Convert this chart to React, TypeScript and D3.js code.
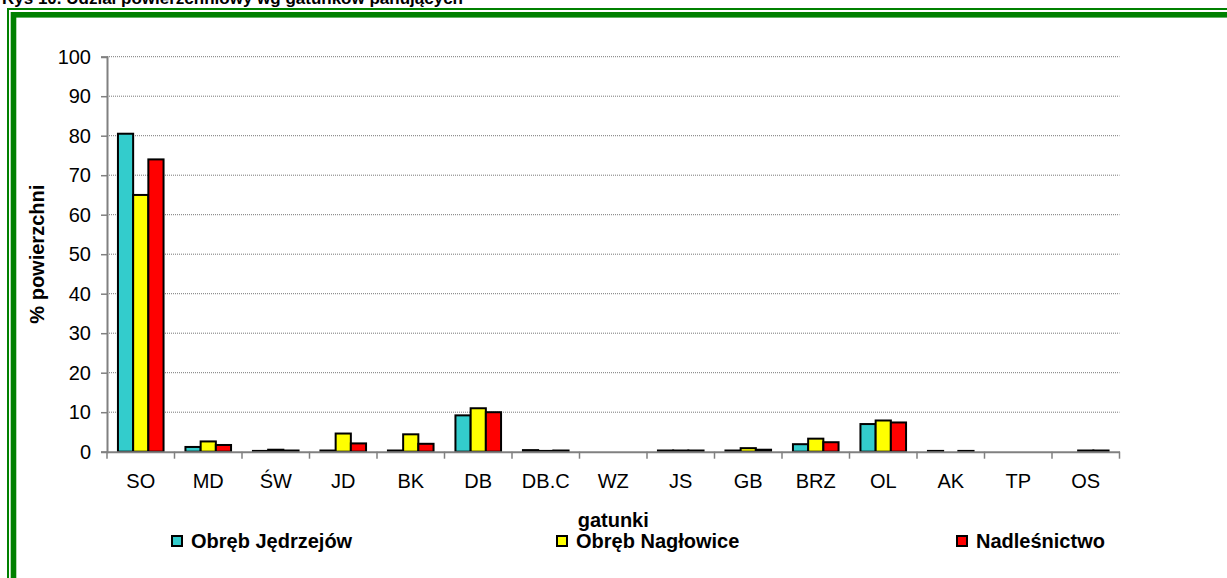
import React, { useEffect, useRef } from 'react';
import * as d3 from 'd3';

// gatunki (species)
const categories = ['SO', 'MD', 'ŚW', 'JD', 'BK', 'DB', 'DB.C', 'WZ', 'JS', 'GB', 'BRZ', 'OL', 'AK', 'TP', 'OS'];
const seriesNames = ['Obręb Jędrzejów', 'Obręb Nagłowice', 'Nadleśnictwo'];
const jedrzejow = [80.5, 1.2, 0.2, 0.3, 0.3, 9.2, 0.4, 0, 0.3, 0.3, 1.9, 7.0, 0.2, 0, 0];
const naglowice = [65, 2.6, 0.5, 4.6, 4.4, 11.0, 0.2, 0, 0.3, 0.9, 3.3, 7.9, 0, 0, 0.3];
const nadlesnictwo = [74, 1.7, 0.3, 2.1, 2.0, 10.0, 0.3, 0, 0.3, 0.5, 2.4, 7.4, 0.2, 0, 0.3];
const yTicks = [0, 10, 20, 30, 40, 50, 60, 70, 80, 90, 100];

const colors = ['#33CCCC', '#FFFF00', '#FF0000'];

export default function App() {
  const ref = useRef<SVGSVGElement>(null);

  useEffect(() => {
    const width = 1227, height = 578;
    const left = 107, right = 1119.5, top = 56.7, bottom = 451.7;
    const svg = d3.select(ref.current);
    svg.selectAll('*').remove();

    svg.append('rect').attr('width', width).attr('height', height).attr('fill', '#fff');

    // title, cut off at the top like in the scan
    svg.append('text')
      .attr('x', 2).attr('y', 4)
      .attr('font-family', 'Arial, Liberation Sans, sans-serif')
      .attr('font-weight', 'bold').attr('font-size', 17)
      .text('Rys 10. Udział powierzchniowy wg gatunków panujących');

    // green double frame
    svg.append('rect').attr('x', 8).attr('y', 9).attr('width', 1400).attr('height', 800)
      .attr('fill', 'none').attr('stroke', '#008000').attr('stroke-width', 2);
    svg.append('rect').attr('x', 13.5).attr('y', 14.8).attr('width', 1400).attr('height', 800)
      .attr('fill', 'none').attr('stroke', '#008000').attr('stroke-width', 5.6);

    const y = d3.scaleLinear().domain([0, 100]).range([bottom, top]);
    const x0 = d3.scaleBand().domain(categories).range([left, right]).padding(0);
    const x1 = d3.scaleBand().domain(seriesNames).range([0, x0.bandwidth()])
      .paddingInner(0).paddingOuter(0.72);

    // grid lines
    svg.append('g').selectAll('line')
      .data(yTicks.filter(t => t > 0))
      .enter().append('line')
      .attr('x1', left).attr('x2', right)
      .attr('y1', d => y(d)).attr('y2', d => y(d))
      .attr('stroke', '#777').attr('stroke-width', 1).attr('stroke-dasharray', '1,1');

    // bars
    const data = [jedrzejow, naglowice, nadlesnictwo];
    const rows = categories.flatMap((c, i) =>
      seriesNames.map((s, j) => ({ c, s, j, v: data[j][i] }))).filter(d => d.v > 0);
    svg.append('g').selectAll('rect')
      .data(rows)
      .enter().append('rect')
      .attr('x', d => (x0(d.c) as number) + (x1(d.s) as number))
      .attr('y', d => y(d.v))
      .attr('width', x1.bandwidth())
      .attr('height', d => bottom - y(d.v))
      .attr('fill', d => colors[d.j])
      .attr('stroke', '#000').attr('stroke-width', 2);

    // y axis
    const yAxis = svg.append('g').attr('transform', `translate(${left},0)`)
      .call(d3.axisLeft(y).tickValues(yTicks).tickSize(6).tickPadding(10));
    yAxis.select('.domain').attr('stroke', '#808080').attr('stroke-width', 2);
    yAxis.selectAll('.tick line').attr('stroke', '#808080').attr('stroke-width', 1.5);
    yAxis.selectAll('text').attr('font-family', 'Arial, Liberation Sans, sans-serif')
      .attr('font-size', 20).attr('fill', '#000');

    // x axis
    const xAxis = svg.append('g').attr('transform', `translate(0,${bottom})`)
      .call(d3.axisBottom(x0).tickSize(0).tickPadding(22));
    xAxis.select('.domain').attr('stroke', '#808080').attr('stroke-width', 2);
    xAxis.selectAll('text').attr('font-family', 'Arial, Liberation Sans, sans-serif')
      .attr('font-size', 20).attr('fill', '#000');
    const edges = categories.map(c => x0(c) as number).concat([right]);
    xAxis.selectAll('line.sep').data(edges).enter().append('line')
      .attr('x1', d => d).attr('x2', d => d).attr('y1', 0).attr('y2', 7)
      .attr('stroke', '#808080').attr('stroke-width', 1.5);

    // axis titles
    svg.append('text')
      .attr('transform', `translate(44,${(top + bottom) / 2}) rotate(-90)`)
      .attr('text-anchor', 'middle')
      .attr('font-family', 'Arial, Liberation Sans, sans-serif')
      .attr('font-weight', 'bold').attr('font-size', 20)
      .text('% powierzchni');
    svg.append('text')
      .attr('x', (left + right) / 2).attr('y', 527)
      .attr('text-anchor', 'middle')
      .attr('font-family', 'Arial, Liberation Sans, sans-serif')
      .attr('font-weight', 'bold').attr('font-size', 20)
      .text('gatunki');

    // legend
    const legendX = [172, 557, 957];
    const lg = svg.append('g').selectAll('g').data(seriesNames).enter().append('g')
      .attr('transform', (d, i) => `translate(${legendX[i]},0)`);
    lg.append('rect').attr('x', 0).attr('y', 536).attr('width', 10).attr('height', 10)
      .attr('fill', (d, i) => colors[i]).attr('stroke', '#000').attr('stroke-width', 2);
    lg.append('text').attr('x', 19).attr('y', 548)
      .attr('font-family', 'Arial, Liberation Sans, sans-serif')
      .attr('font-weight', 'bold').attr('font-size', 20)
      .text(d => d);
  }, []);

  return (
    <svg ref={ref} width={1227} height={578}
      style={{ position: 'absolute', left: 0, top: 0, display: 'block' }} />
  );
}
